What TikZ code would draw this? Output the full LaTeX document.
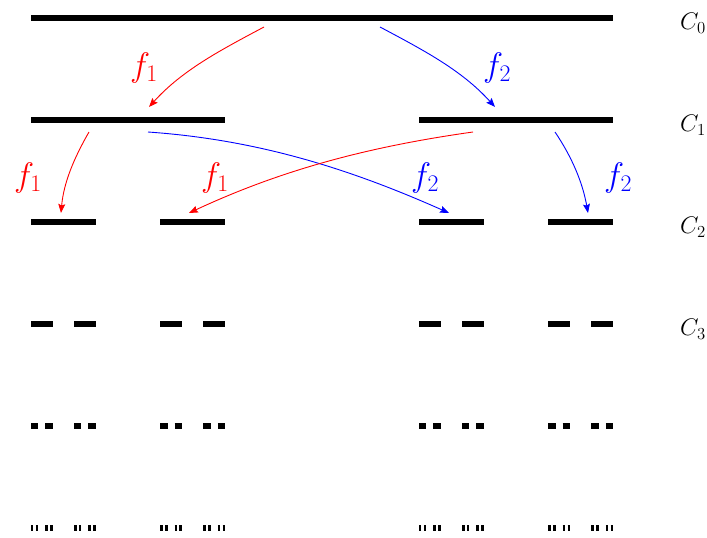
\RequirePackage{fix-cm}
\documentclass[tikz,border=0pt]{standalone}
\usetikzlibrary{arrows.meta}
\definecolor{fred}{RGB}{255,0,0}
\definecolor{fblue}{RGB}{0,0,255}
\tikzset{
  seg/.style={line width=6pt, line cap=butt},
  redarrow/.style={draw=fred, line width=0.9pt, -{Stealth[length=9pt,width=7pt,inset=1.5pt]}},
  bluearrow/.style={draw=fblue, line width=0.9pt, -{Stealth[length=9pt,width=7pt,inset=1.5pt]}},
  flabel/.style={inner sep=0pt, font=\fontsize{34}{40}\selectfont},
  clabel/.style={inner sep=0pt, font=\fontsize{24}{28}\selectfont},
}
\newcommand\cantorrow[3]{%
  \draw[seg] (#1,{-18-102*#3}) -- ++(#2,0);%
  \ifnum#3<5
    \pgfmathsetmacro\cnlen{#2/3}%
    \pgfmathsetmacro\cnright{#1+2*#2/3}%
    \pgfmathtruncatemacro\cnlev{#3+1}%
    \edef\cntmp{\noexpand\begingroup\noexpand\cantorrow{#1}{\cnlen}{\cnlev}\noexpand\endgroup
      \noexpand\begingroup\noexpand\cantorrow{\cnright}{\cnlen}{\cnlev}\noexpand\endgroup}%
    \cntmp
  \fi}
\begin{document}
\begin{tikzpicture}[x=1pt,y=1pt]
\useasboundingbox (0,0) rectangle (707,-538);
% Cantor set levels
\begingroup\cantorrow{31}{582}{0}\endgroup
% level labels
\node[clabel] (c0) at (693,-23) {$C_0$};
\node[clabel] (c1) at (693,-125) {$C_1$};
\node[clabel] (c2) at (693,-227) {$C_2$};
\node[clabel] (c3) at (693,-329) {$C_3$};
% arrow endpoints
\coordinate (r1s) at (264,-27);  \coordinate (r1e) at (149,-107);
\coordinate (b1s) at (380,-27);  \coordinate (b1e) at (495,-107);
\coordinate (r2s) at (89,-132);  \coordinate (r2e) at (61,-213);
\coordinate (b2s) at (148,-132); \coordinate (b2e) at (449,-213);
\coordinate (r3s) at (473,-132); \coordinate (r3e) at (189,-213);
\coordinate (b3s) at (555,-132); \coordinate (b3e) at (588,-213);
% arrows
\draw[redarrow]  (r1s) to[out=208,in=48,looseness=0.9] (r1e);
\draw[bluearrow] (b1s) to[out=-28,in=132,looseness=0.9] (b1e);
\draw[redarrow]  (r2s) to[out=240,in=85,looseness=0.9] (r2e);
\draw[bluearrow] (b2s) to[out=-4,in=156,looseness=0.9] (b2e);
\draw[redarrow]  (r3s) to[out=188,in=25,looseness=0.9] (r3e);
\draw[bluearrow] (b3s) to[out=-56,in=100,looseness=0.9] (b3e);
% map labels
\node[flabel, text=fred]  (l1) at (144,-68)  {$f_1$};
\node[flabel, text=fblue] (l2) at (497,-68)  {$f_2$};
\node[flabel, text=fred]  (l3) at (28,-178)  {$f_1$};
\node[flabel, text=fred]  (l4) at (215,-178) {$f_1$};
\node[flabel, text=fblue] (l5) at (425,-178) {$f_2$};
\node[flabel, text=fblue] (l6) at (618,-178) {$f_2$};
\end{tikzpicture}
\end{document}
